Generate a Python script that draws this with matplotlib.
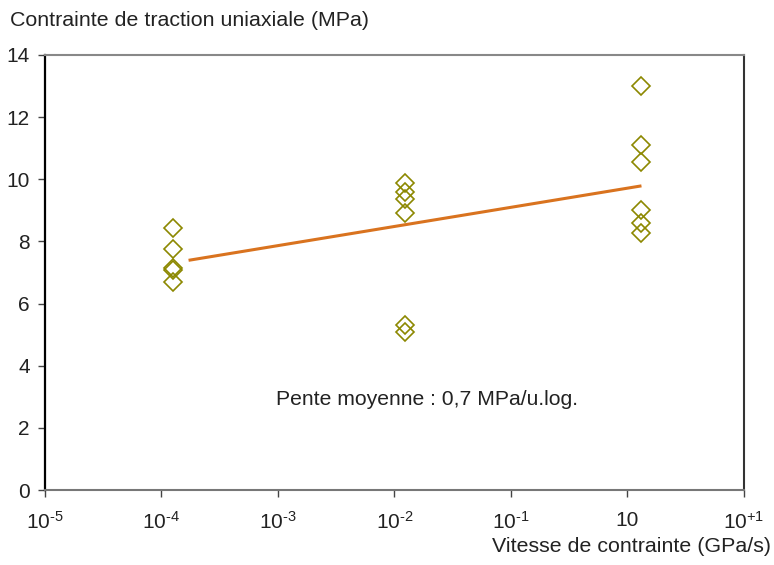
import matplotlib
matplotlib.use('Agg')
import matplotlib.pyplot as plt

plt.rcParams['font.family'] = ['Liberation Sans', 'DejaVu Sans']
plt.rcParams['mathtext.fontset'] = 'custom'
plt.rcParams['mathtext.rm'] = 'Liberation Sans'
plt.rcParams['mathtext.it'] = 'Liberation Sans'
plt.rcParams['mathtext.default'] = 'regular'

# vitesse de contrainte (GPa/s) et contrainte (MPa)
rate_low = [1.25e-4] * 5
stress_low = [8.42, 7.76, 7.15, 7.08, 6.69]
rate_mid = [1.23e-2] * 6
stress_mid = [9.87, 9.60, 9.36, 8.90, 5.30, 5.08]
rate_high = [1.3] * 6
stress_high = [13.0, 11.10, 10.57, 9.01, 8.58, 8.26]

# droite de tendance
trend_x = [1.76e-4, 1.28]
trend_y = [7.40, 9.78]

xticks = [1e-5, 1e-4, 1e-3, 1e-2, 1e-1, 1, 10]
xlabels = ['$10^{\\text{-}5}$', '$10^{\\text{-}4}$', '$10^{\\text{-}3}$', '$10^{\\text{-}2}$',
           '$10^{\\text{-}1}$', '10', '$10^{+1}$']
yticks = [0, 2, 4, 6, 8, 10, 12, 14]

txt = '#222222'
olive = '#8c8800'

fig = plt.figure(figsize=(7.74, 5.65), dpi=100)
ax = fig.add_axes([0.0581, 0.1327, 0.9031, 0.7700])

ax.plot(trend_x, trend_y, color='#d9731f', lw=2.2, zorder=2)
for xs, ys in [(rate_low, stress_low), (rate_mid, stress_mid), (rate_high, stress_high)]:
    ax.plot(xs, ys, ls='none', marker='D', ms=9.5, mfc='none', mec=olive, mew=1.2, zorder=3)

ax.set_xscale('log')
ax.set_xlim(1e-5, 10)
ax.set_ylim(0, 14)
ax.set_xticks(xticks)
ax.set_xticklabels(xlabels)
ax.xaxis.set_minor_locator(matplotlib.ticker.NullLocator())
ax.set_yticks(yticks)

ax.tick_params(axis='both', direction='out', length=5, width=1, colors='#444444',
               labelcolor=txt, labelsize=15)
ax.tick_params(axis='y', pad=6)
ax.tick_params(axis='x', pad=10)

ax.spines['left'].set_color('black')
ax.spines['left'].set_linewidth(1.6)
ax.spines['right'].set_color('#333333')
ax.spines['right'].set_linewidth(1.5)
ax.spines['top'].set_color('#888888')
ax.spines['top'].set_linewidth(1.5)
ax.spines['bottom'].set_color('#777777')
ax.spines['bottom'].set_linewidth(1.5)

fig.text(10 / 774, 1 - 20 / 565, 'Contrainte de traction uniaxiale (MPa)', fontsize=15.4,
         color=txt, ha='left', va='center')
fig.text(771 / 774, 1 - 546 / 565, 'Vitesse de contrainte (GPa/s)', fontsize=15.4,
         color=txt, ha='right', va='center')
ax.text(10 ** -1.725, 2.9, 'Pente moyenne : 0,7 MPa/u.log.', fontsize=15.2, color=txt,
        ha='center', va='center')

fig.savefig('out.png', dpi=100)
